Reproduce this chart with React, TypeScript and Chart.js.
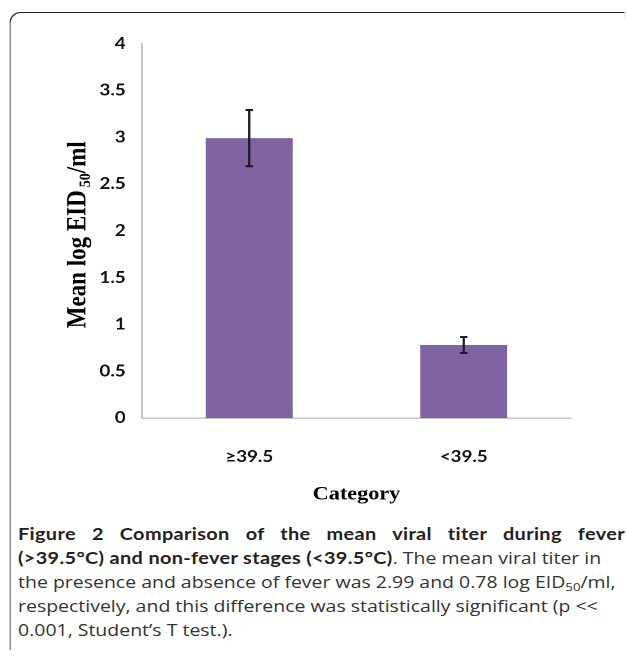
import React, { useEffect, useRef } from "react";
import { Chart, registerables } from "chart.js";

Chart.register(...registerables);

// ---- data ----
const categories = ["≥39.5", "<39.5"];
const meanTiter = [2.99, 0.78];
const errorBar = [0.3, 0.085];
const yMin = 0;
const yMax = 4;
const yStep = 0.5;

// the reference image is stretched horizontally
const STRETCH = 1.17;

const errorBarsPlugin = {
  id: "errorBars",
  afterDatasetsDraw(chart: any) {
    const { ctx } = chart;
    const y = chart.scales.y;
    const meta = chart.getDatasetMeta(0);
    ctx.save();
    ctx.strokeStyle = "#1d1a26";
    ctx.lineWidth = 2;
    meta.data.forEach((bar: any, i: number) => {
      const x = bar.x;
      const top = y.getPixelForValue(meanTiter[i] + errorBar[i]);
      const bot = y.getPixelForValue(meanTiter[i] - errorBar[i]);
      const hw = 3.2;
      ctx.beginPath();
      ctx.moveTo(x, top);
      ctx.lineTo(x, bot);
      ctx.moveTo(x - hw, top);
      ctx.lineTo(x + hw, top);
      ctx.moveTo(x - hw, bot);
      ctx.lineTo(x + hw, bot);
      ctx.stroke();
    });
    ctx.restore();
  },
};

const yTitlePlugin = {
  id: "yTitle",
  afterDraw(chart: any) {
    const { ctx, chartArea } = chart;
    const cx = 57.5;
    const cy = (chartArea.top + chartArea.bottom) / 2 + 4;
    const mainFont = "bold 23px 'Liberation Serif'";
    const subFont = "bold 14px 'Liberation Serif'";
    const p1 = "Mean log EID";
    const p2 = "50";
    const p3 = "/ml";
    const gap = 3;
    ctx.save();
    ctx.font = mainFont;
    const w1 = ctx.measureText(p1).width;
    const w3 = ctx.measureText(p3).width;
    ctx.font = subFont;
    const w2 = ctx.measureText(p2).width;
    const total = w1 + gap + w2 + w3;
    ctx.translate(cx, cy);
    ctx.rotate(-Math.PI / 2);
    ctx.fillStyle = "#000";
    ctx.textBaseline = "alphabetic";
    ctx.textAlign = "left";
    const base = 5.5;
    let x = -total / 2;
    ctx.font = mainFont;
    ctx.fillText(p1, x, base);
    x += w1 + gap;
    ctx.font = subFont;
    ctx.fillText(p2, x, base + 4);
    x += w2;
    ctx.font = mainFont;
    ctx.fillText(p3, x, base);
    ctx.restore();
  },
};

function BarChart() {
  const ref = useRef<HTMLCanvasElement | null>(null);
  useEffect(() => {
    if (!ref.current) return;
    const tickFont = { family: "Lato", weight: "bold" as const, size: 16 };
    const chart = new Chart(ref.current, {
      type: "bar",
      data: {
        labels: categories,
        datasets: [
          {
            data: meanTiter,
            backgroundColor: "#8064A2",
            borderWidth: 0,
            barPercentage: 0.406,
            categoryPercentage: 1,
          },
        ],
      },
      options: {
        animation: false,
        responsive: false,
        maintainAspectRatio: false,
        devicePixelRatio: 2,
        layout: { padding: { left: 0, right: 32, top: 22, bottom: 0 } },
        plugins: { legend: { display: false }, tooltip: { enabled: false } },
        scales: {
          x: {
            grid: { display: false, drawTicks: false },
            border: { display: true, color: "#c4c4c4", width: 1.5 },
            ticks: { font: tickFont, color: "#111", padding: 29 },
            title: {
              display: true,
              text: "Category",
              font: { family: "'Liberation Serif'", weight: "bold", size: 19 },
              color: "#000",
              padding: { top: 0, bottom: 14 },
            },
            afterFit: (s: any) => {
              s.height = 102;
            },
          },
          y: {
            min: yMin,
            max: yMax,
            grid: { display: false, drawTicks: false },
            border: { display: true, color: "#c4c4c4", width: 1.5 },
            ticks: {
              stepSize: yStep,
              font: tickFont,
              color: "#111",
              padding: 14,
              callback: (v: any) => String(Number(v)),
            },
            afterFit: (s: any) => {
              s.width = 111.4;
            },
          },
        },
      },
      plugins: [errorBarsPlugin, yTitlePlugin],
    });
    return () => chart.destroy();
  }, []);
  return (
    <canvas
      ref={ref}
      width={510}
      height={500}
      style={{ position: "absolute", left: 10, top: 20, width: 510, height: 500 }}
    />
  );
}

export default function App() {
  const bold: React.CSSProperties = {
    fontFamily: "Lato, sans-serif",
    fontWeight: 700,
    color: "#222",
    letterSpacing: "0.3px",
  };
  return (
    <div
      style={{
        position: "absolute",
        left: 0,
        top: 0,
        width: 536,
        height: 650,
        transform: `scaleX(${STRETCH})`,
        transformOrigin: "0 0",
        background: "#fff",
      }}
    >
      <div
        style={{
          position: "absolute",
          left: 7.7,
          top: 12,
          width: 526.5,
          height: 638,
          borderTop: "1.5px solid #222",
          borderLeft: "1.3px solid #222",
          borderTopLeftRadius: "9.4px 11px",
          boxSizing: "border-box",
        }}
      />
      <BarChart />
      <div
        style={{
          position: "absolute",
          left: 15.4,
          top: 522,
          width: 518.8,
          fontFamily: "'Open Sans', sans-serif",
          fontSize: "16.65px",
          lineHeight: "24px",
          color: "#333",
          whiteSpace: "nowrap",
        }}
      >
        <div style={{ textAlign: "justify", textAlignLast: "justify", whiteSpace: "normal", fontSize: "17px" }}>
          <span style={bold}>Figure 2 Comparison of the mean viral titer during fever</span>
        </div>
        <div>
          <span style={{ ...bold, fontSize: "17px" }}>(&gt;39.5°C) and non-fever stages (&lt;39.5°C)</span>. The mean viral titer in
        </div>
        <div>
          the presence and absence of fever was 2.99 and 0.78 log EID
          <span style={{ fontSize: "0.68em", position: "relative", top: "0.25em", lineHeight: 0 }}>50</span>/ml,
        </div>
        <div>respectively, and this difference was statistically significant (p &lt;&lt;</div>
        <div>0.001, Student’s T test.).</div>
      </div>
    </div>
  );
}
